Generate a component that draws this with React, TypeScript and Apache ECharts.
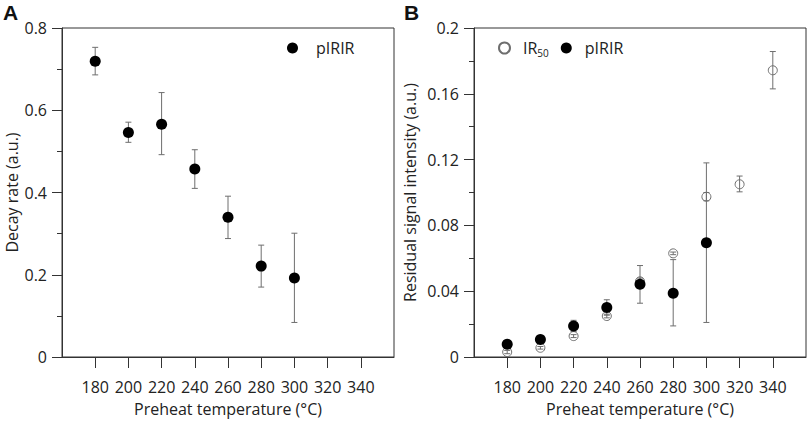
import React, { useEffect, useRef } from "react";
import * as echarts from "echarts";

const xTicks = [180, 200, 220, 240, 260, 280, 300, 320, 340];

// Panel A: decay rate (pIRIR)
const decayTemps = [180, 200, 220, 240, 260, 280, 300];
const decayRate = [0.719, 0.546, 0.566, 0.457, 0.34, 0.221, 0.192];
const decayLow = [0.686, 0.522, 0.492, 0.41, 0.288, 0.17, 0.084];
const decayHigh = [0.753, 0.571, 0.643, 0.504, 0.391, 0.272, 0.301];

// Panel B: residual signal intensity
const ir50Temps = [180, 200, 220, 240, 260, 280, 300, 320, 340];
const ir50Val = [0.003, 0.0056, 0.0127, 0.0249, 0.046, 0.063, 0.0974, 0.105, 0.1743];
const ir50Low = [0.002, 0.0048, 0.0118, 0.0238, 0.044, 0.0622, 0.095, 0.1004, 0.163];
const ir50High = [0.004, 0.0064, 0.0136, 0.026, 0.048, 0.0638, 0.1, 0.11, 0.1857];

const pirirTemps = [180, 200, 220, 240, 260, 280, 300];
const pirirVal = [0.0078, 0.0107, 0.0189, 0.0301, 0.0442, 0.0387, 0.0695];
const pirirLow = [0.0068, 0.0097, 0.0155, 0.0254, 0.0327, 0.0189, 0.021];
const pirirHigh = [0.0088, 0.0117, 0.0223, 0.0348, 0.0556, 0.0592, 0.118];

const FONT = "'Open Sans', sans-serif";
const FS = 16;
const TEXT = "#222";
const AXIS = "#333";
const ERR = "#6e6e6e";

function errItem(params: any, api: any) {
  const x = api.value(0);
  const lo = api.value(1);
  const hi = api.value(2);
  const pHi = api.coord([x, hi]);
  const pLo = api.coord([x, lo]);
  const cap = 3;
  const style = { stroke: ERR, lineWidth: 1 };
  return {
    type: "group",
    children: [
      { type: "line", shape: { x1: pHi[0], y1: pHi[1], x2: pLo[0], y2: pLo[1] }, style },
      { type: "line", shape: { x1: pHi[0] - cap, y1: pHi[1], x2: pHi[0] + cap, y2: pHi[1] }, style },
      { type: "line", shape: { x1: pLo[0] - cap, y1: pLo[1], x2: pLo[0] + cap, y2: pLo[1] }, style },
    ],
  };
}

function xAxisCfg(gridIndex: number) {
  return {
    type: "value",
    gridIndex,
    min: 160,
    max: 360,
    interval: 20,
    name: "Preheat temperature (°C)",
    nameLocation: "middle",
    nameGap: 44,
    nameTextStyle: { fontFamily: FONT, fontSize: FS, color: TEXT },
    axisLine: { show: true, onZero: false, lineStyle: { color: AXIS, width: 1 } },
    axisTick: { show: true, inside: false, length: 11, customValues: xTicks, lineStyle: { color: AXIS } },
    axisLabel: {
      customValues: xTicks,
      margin: 22,
      fontFamily: FONT,
      fontSize: FS,
      color: TEXT,
    },
    splitLine: { show: false },
  };
}

function yAxisCfg(gridIndex: number, max: number, interval: number, name: string, nameGap: number) {
  return {
    type: "value",
    gridIndex,
    min: 0,
    max,
    interval,
    name,
    nameLocation: "middle",
    nameGap,
    nameTextStyle: { fontFamily: FONT, fontSize: FS, color: TEXT },
    axisLine: { show: true, lineStyle: { color: AXIS, width: 1 } },
    axisTick: { show: true, inside: false, length: 10, lineStyle: { color: AXIS } },
    axisLabel: {
      margin: 15,
      fontFamily: FONT,
      fontSize: FS,
      color: TEXT,
      formatter: (v: number) => String(parseFloat(v.toFixed(4))),
    },
    splitLine: { show: false },
  };
}

// overlay axis carrying the short (minor) ticks
function yMinorCfg(gridIndex: number, max: number, interval: number) {
  return {
    type: "value",
    gridIndex,
    position: "left",
    min: 0,
    max,
    interval,
    axisLine: { show: false },
    axisTick: { show: true, inside: false, length: 5, lineStyle: { color: AXIS } },
    axisLabel: { show: false },
    splitLine: { show: false },
  };
}

export default function App() {
  const ref = useRef<HTMLDivElement>(null);
  useEffect(() => {
    if (!ref.current) return;
    const chart = echarts.init(ref.current, null, { renderer: "svg" });
    const option: any = {
      animation: false,
      backgroundColor: "#fff",
      grid: [
        { left: 62, top: 28, width: 332, height: 332, show: true, borderColor: AXIS, borderWidth: 1 },
        { left: 474, top: 28, width: 332, height: 332, show: true, borderColor: AXIS, borderWidth: 1 },
      ],
      xAxis: [xAxisCfg(0), xAxisCfg(1)],
      yAxis: [
        yAxisCfg(0, 0.8, 0.2, "Decay rate (a.u.)", 42),
        yAxisCfg(1, 0.2, 0.04, "Residual signal intensity (a.u.)", 56),
        yMinorCfg(0, 0.8, 0.1),
        yMinorCfg(1, 0.2, 0.02),
      ],
      legend: [
        {
          data: [{ name: "pIRIR A" }],
          left: 282,
          top: 35,
          itemWidth: 11,
          itemHeight: 11,
          formatter: () => "pIRIR",
          textStyle: { fontFamily: FONT, fontSize: FS, color: TEXT, padding: [0, 0, 0, 13] },
          selectedMode: false,
        },
        {
          data: [{ name: "IR50" }, { name: "pIRIR B" }],
          left: 493,
          top: 35,
          itemWidth: 11,
          itemHeight: 11,
          itemGap: 12,
          formatter: (n: string) => (n === "IR50" ? "{a|IR}{b|50}" : "pIRIR"),
          textStyle: {
            fontFamily: FONT,
            fontSize: FS,
            color: TEXT,
            padding: [0, 0, 0, 8],
            rich: {
              a: { fontFamily: FONT, fontSize: FS, color: TEXT },
              b: { fontFamily: FONT, fontSize: 10, color: TEXT, verticalAlign: "bottom", padding: [10, 0, 0, 0] },
            },
          },
          selectedMode: false,
        },
      ],
      graphic: [
        { type: "text", left: 3, top: 2, style: { text: "A", fontFamily: "Liberation Sans, Arial, sans-serif", fontWeight: "bold", fontSize: 21, fill: "#111" } },
        { type: "text", left: 404, top: 2, style: { text: "B", fontFamily: "Liberation Sans, Arial, sans-serif", fontWeight: "bold", fontSize: 21, fill: "#111" } },
      ],
      series: [
        {
          type: "custom",
          name: "errA",
          xAxisIndex: 0,
          yAxisIndex: 0,
          renderItem: errItem,
          data: decayTemps.map((t, i) => [t, decayLow[i], decayHigh[i]]),
          z: 1,
        },
        {
          type: "scatter",
          name: "pIRIR A",
          xAxisIndex: 0,
          yAxisIndex: 0,
          symbol: "circle",
          symbolSize: 11,
          itemStyle: { color: "#000", opacity: 1 },
          data: decayTemps.map((t, i) => [t, decayRate[i]]),
          z: 2,
        },
        {
          type: "custom",
          name: "errIR50",
          xAxisIndex: 1,
          yAxisIndex: 1,
          renderItem: errItem,
          data: ir50Temps.map((t, i) => [t, ir50Low[i], ir50High[i]]),
          z: 1,
        },
        {
          type: "scatter",
          name: "IR50",
          xAxisIndex: 1,
          yAxisIndex: 1,
          symbol: "circle",
          symbolSize: 9,
          itemStyle: { color: "rgba(255,255,255,0)", borderColor: ERR, borderWidth: 1, opacity: 1 },
          data: ir50Temps.map((t, i) => [t, ir50Val[i]]),
          z: 2,
        },
        {
          type: "custom",
          name: "errPIRIR",
          xAxisIndex: 1,
          yAxisIndex: 1,
          renderItem: errItem,
          data: pirirTemps.map((t, i) => [t, pirirLow[i], pirirHigh[i]]),
          z: 3,
        },
        {
          type: "scatter",
          name: "pIRIR B",
          xAxisIndex: 1,
          yAxisIndex: 1,
          symbol: "circle",
          symbolSize: 11,
          itemStyle: { color: "#000", opacity: 1 },
          data: pirirTemps.map((t, i) => [t, pirirVal[i]]),
          z: 4,
        },
      ],
    };
    chart.setOption(option);
    return () => chart.dispose();
  }, []);
  return (
    <div
      ref={ref}
      style={{ position: "absolute", left: 0, top: 0, width: 809, height: 422 }}
    />
  );
}
